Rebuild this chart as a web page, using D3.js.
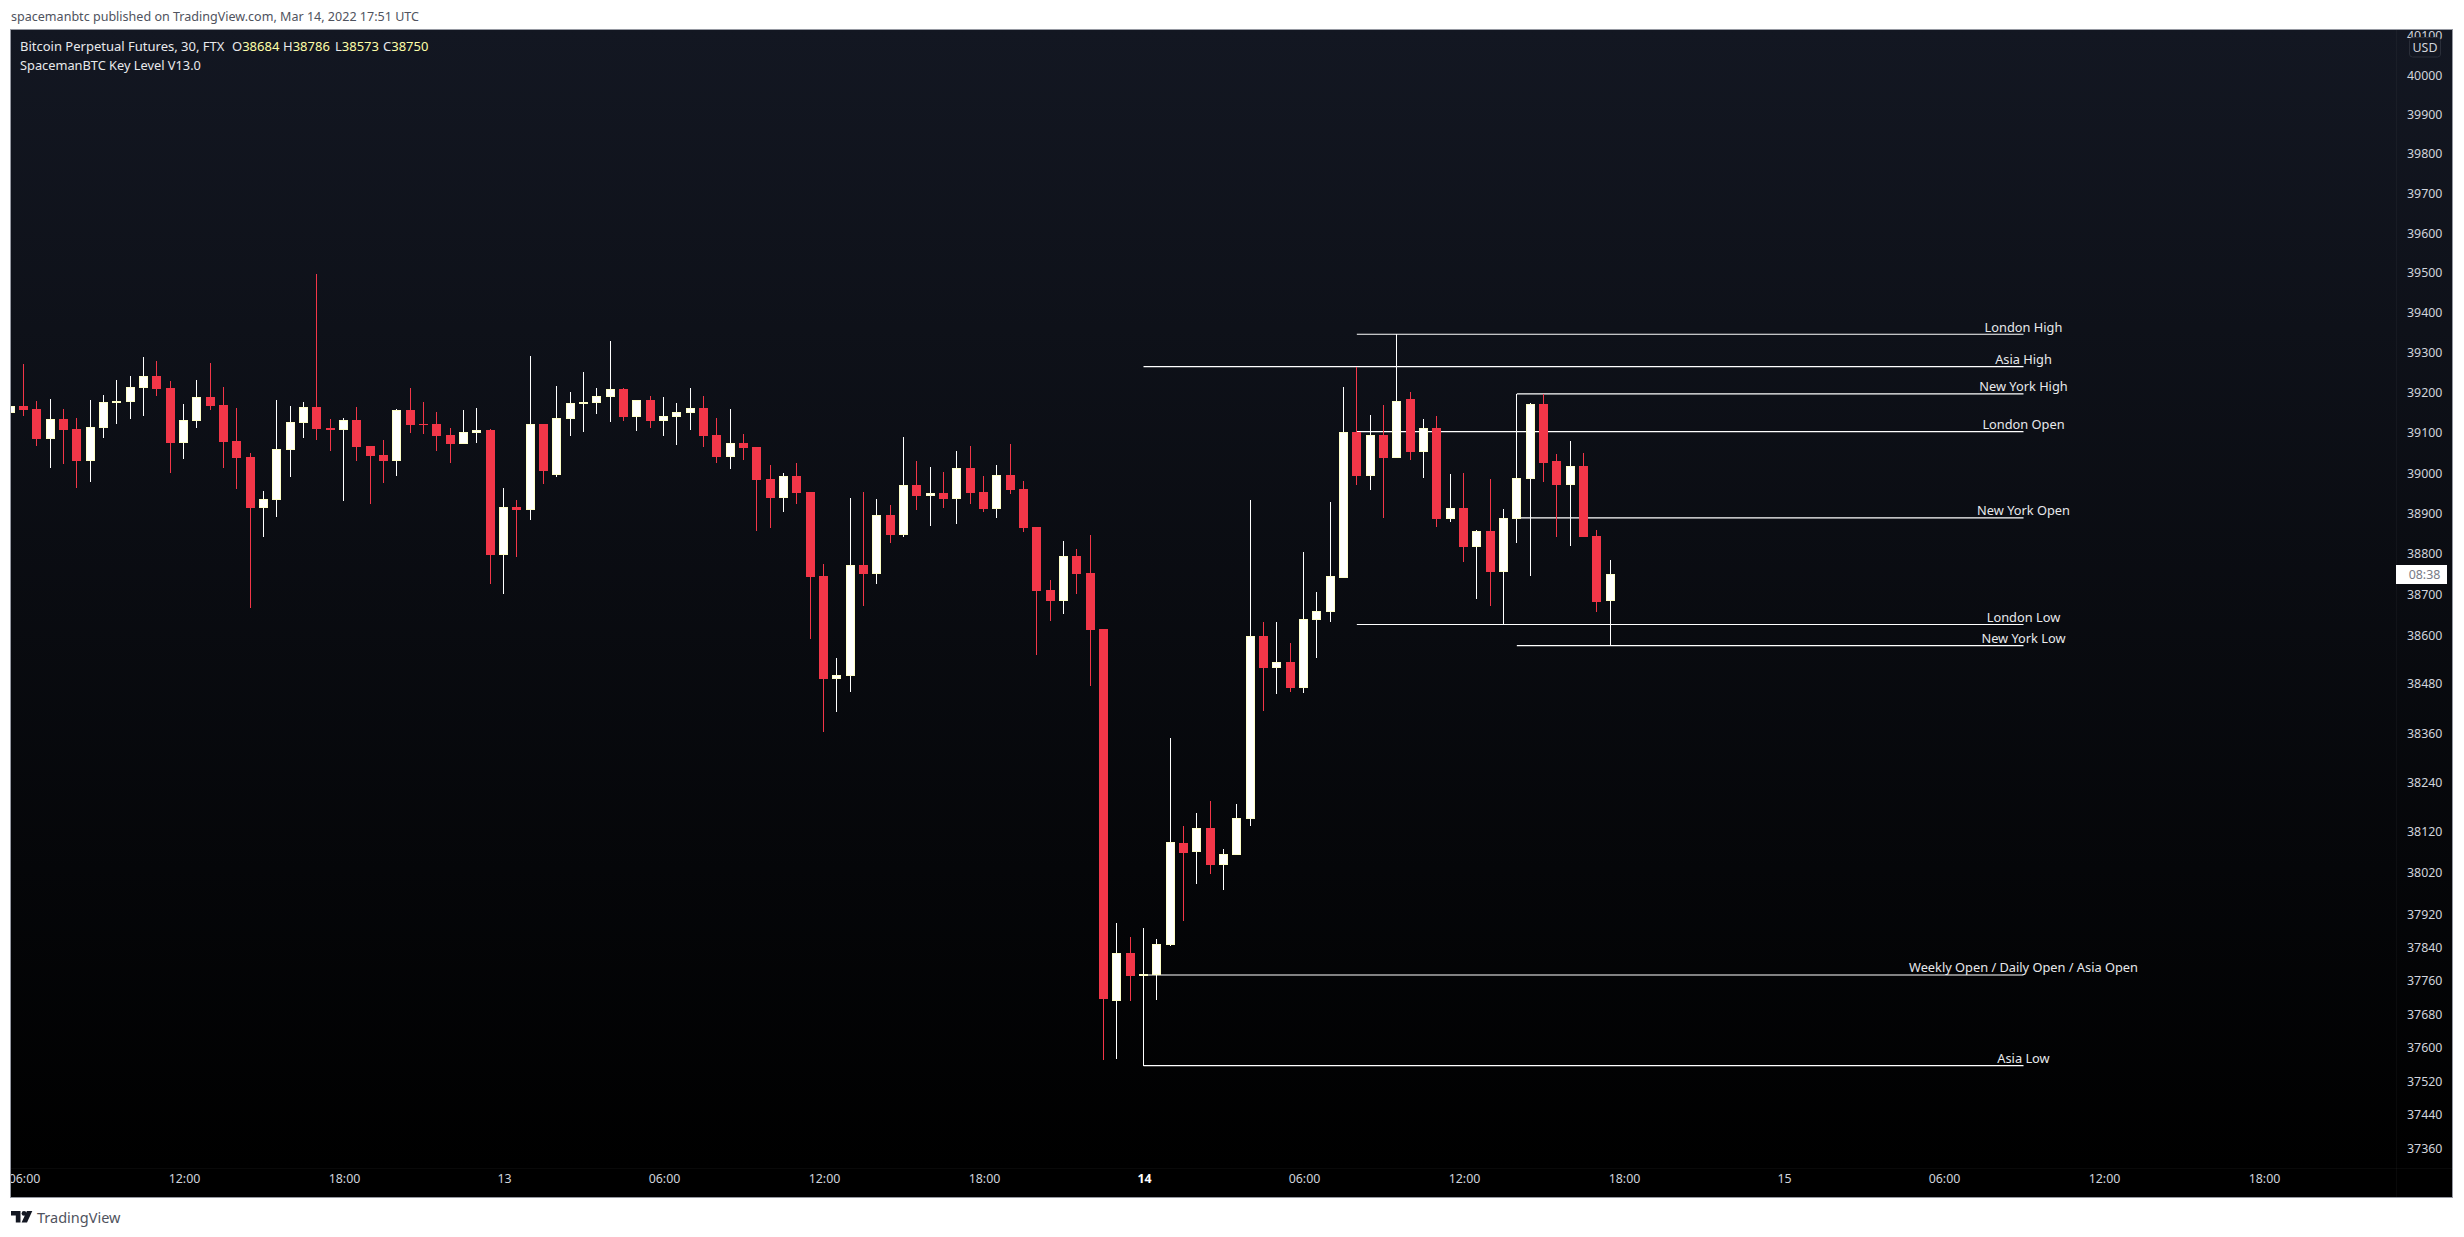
<!DOCTYPE html>
<html>
<head>
<meta charset="utf-8">
<title>Bitcoin Perpetual Futures, 30, FTX</title>
<script src="https://cdn.jsdelivr.net/npm/d3@7"></script>
<style>
	html, body { margin: 0; padding: 0; background: #fff; overflow: hidden; }
	svg { display: block; }
	text { font-family: "Noto Sans", sans-serif; }
</style>
</head>
<body>
<div id="chart"></div>
<script>
// 30 minute candles, index 0 = 12 Mar 2022 05:30 UTC
const opens = [39149,39167,39159,39085,39134,39110,39030,39112,39174,39177,39211,39241,39211,39075,39129,39189,39169,39080,39040,38913,38933,39057,39124,39164,39112,39107,39132,39067,39045,39030,39157,39122,39122,39095,39072,39100,39107,38797,38916,38909,39122,38995,39135,39172,39174,39189,39209,39140,39182,39130,39140,39150,39162,39095,39040,39075,39065,38986,38939,38993,38954,38745,38492,38500,38772,38750,38896,38847,38971,38944,38951,38936,39013,38954,38911,38996,38961,38867,38710,38683,38795,38752,38615,37712,37827,37772,37774,37847,38093,38071,38129,38040,38064,38151,38598,38519,38534,38470,38637,38656,38741,39102,38993,39095,39037,39184,39052,39112,38886,38913,38817,38856,38755,38886,38985,39172,39030,38970,39018,38844,38684];
const highs = [39167,39272,39179,39184,39159,39137,39182,39194,39231,39241,39289,39279,39229,39172,39231,39274,39214,39162,39050,38956,39182,39167,39177,39496,39134,39137,39164,39067,39082,39159,39211,39177,39152,39112,39157,39162,39110,38963,38933,39291,39122,39216,39202,39251,39212,39328,39212,39182,39192,39189,39174,39212,39192,39137,39159,39097,39065,39020,39001,39025,38954,38775,38544,38939,38954,38936,38921,39090,39030,39016,39003,39055,39068,38993,39020,39073,38981,38867,38735,38832,38812,38847,38615,37899,37866,37887,37861,38348,38134,38165,38195,38079,38188,38933,38632,38632,38580,38805,38706,38928,39214,39264,39144,39169,39346,39202,39134,39142,38998,39000,38859,38985,38911,39197,39174,39196,39047,39080,39050,38859,38786];
const lows = [39149,39142,39067,39013,39023,38963,38978,39087,39122,39134,39142,39191,39000,39035,39112,39157,39013,38961,38667,38842,38891,38990,39087,39082,39055,38931,39030,38923,38976,38993,39100,39097,39055,39025,39072,39075,38725,38701,38792,38884,38973,38990,39092,39102,39147,39127,39130,39105,39112,39092,39070,39107,39065,39025,39011,39033,38857,38864,38904,38924,38591,38363,38412,38461,38671,38725,38827,38842,38909,38869,38914,38874,38924,38904,38889,38949,38854,38551,38634,38651,38700,38475,37571,37573,37712,37557,37714,37844,37904,37994,38018,37979,38064,38134,38414,38456,38461,38458,38544,38632,38741,38970,38958,38889,39037,39033,38988,38866,38879,38780,38689,38671,38626,38827,38745,38978,38842,38819,38842,38656,38573];
const closes = [39167,39157,39085,39134,39107,39030,39115,39177,39179,39214,39241,39209,39075,39132,39189,39167,39077,39038,38913,38936,39060,39127,39164,39110,39107,39132,39065,39043,39030,39157,39120,39120,39092,39072,39102,39107,38797,38916,38909,39122,39005,39137,39174,39177,39192,39209,39140,39182,39130,39142,39152,39162,39092,39040,39075,39063,38983,38939,38993,38951,38743,38492,38502,38772,38750,38896,38847,38971,38944,38951,38936,39013,38951,38911,38996,38958,38864,38709,38683,38795,38750,38613,37717,37827,37772,37777,37849,38095,38069,38129,38040,38067,38154,38598,38519,38534,38470,38639,38659,38745,39102,38993,39095,39037,39179,39052,39112,38886,38913,38817,38856,38755,38889,38988,39172,39025,38970,39018,38842,38681,38750];

const levelNames = ["London High", "Asia High", "New York High", "London Open", "New York Open", "London Low", "New York Low", "Weekly Open / Daily Open / Asia Open", "Asia Low"];
const levelPrices = [39346, 39265, 39197, 39103, 38889, 38626, 38574, 37774, 37557];
const levelStarts = ["2022-03-14T08:00Z", "2022-03-14T00:00Z", "2022-03-14T14:00Z", "2022-03-14T08:00Z", "2022-03-14T14:00Z", "2022-03-14T08:00Z", "2022-03-14T14:00Z", "2022-03-14T00:00Z", "2022-03-14T00:00Z"];
const levelEnd = "2022-03-15T09:00Z";

const priceTicks = [40100,40000,39900,39800,39700,39600,39500,39400,39300,39200,39100,39000,38900,38800,38700,38600,38480,38360,38240,38120,38020,37920,37840,37760,37680,37600,37520,37440,37360];
const timeTicks = ["2022-03-12T06:00Z","2022-03-12T12:00Z","2022-03-12T18:00Z","2022-03-13T00:00Z","2022-03-13T06:00Z","2022-03-13T12:00Z","2022-03-13T18:00Z","2022-03-14T00:00Z","2022-03-14T06:00Z","2022-03-14T12:00Z","2022-03-14T18:00Z","2022-03-15T00:00Z","2022-03-15T06:00Z","2022-03-15T12:00Z","2022-03-15T18:00Z"];
const timeLabels = ["06:00","12:00","18:00","13","06:00","12:00","18:00","14","06:00","12:00","18:00","15","06:00","12:00","18:00"];

const legendParts = [["O", "38684"], ["H", "38786"], ["L", "38573"], ["C", "38750"]];
const legendX = [232, 283, 335, 383];

const width = 2464, height = 1237;
const frame = { left: 11, top: 30, right: 2452, bottom: 1197 };
const axisX = 2396, axisY = 1168;
const bullColor = "#ffffff", bullEdge = "#ffffc8", bearColor = "#f23648";
const barWidth = 9;

const svg = d3.select("#chart").append("svg")
	.attr("width", width)
	.attr("height", height);

const defs = svg.append("defs");

let gradient = defs.append("linearGradient")
	.attr("id", "paneBg")
	.attr("gradientUnits", "userSpaceOnUse")
	.attr("x1", 0).attr("x2", 0)
	.attr("y1", frame.top).attr("y2", axisY);
gradient.append("stop").attr("offset", 0).attr("stop-color", "#131722");
gradient.append("stop").attr("offset", 1).attr("stop-color", "#000000");

defs.append("clipPath").attr("id", "frameClip").append("rect")
	.attr("x", frame.left).attr("y", frame.top)
	.attr("width", frame.right - frame.left).attr("height", frame.bottom - frame.top);
defs.append("clipPath").attr("id", "paneClip").append("rect")
	.attr("x", frame.left).attr("y", frame.top)
	.attr("width", axisX - frame.left).attr("height", axisY - frame.top);

// publish line
svg.append("text")
	.attr("x", 11).attr("y", 21)
	.attr("font-size", 12.55)
	.attr("fill", "#50535e")
	.text("spacemanbtc published on TradingView.com, Mar 14, 2022 17:51 UTC");

// chart background
svg.append("rect")
	.attr("x", frame.left).attr("y", frame.top)
	.attr("width", frame.right - frame.left).attr("height", axisY - frame.top)
	.attr("fill", "url(#paneBg)");
svg.append("rect")
	.attr("x", frame.left).attr("y", axisY)
	.attr("width", frame.right - frame.left).attr("height", frame.bottom - axisY)
	.attr("fill", "#000");

const x = d3.scaleUtc()
	.domain([new Date("2022-03-12T05:30Z"), new Date("2022-03-15T05:00Z")])
	.range([10.17, 10.17 + 13.3333 * 143]);

const y = d3.scaleLog()
	.domain([37360, 40000])
	.range([1148.2, 75.2]);

const candleTime = i => new Date(Date.UTC(2022, 2, 12, 5, 30 + 30 * i));
// TradingView snaps bars to whole pixels
const snapX = t => Math.floor(x(t)) + 0.5;

const candles = opens.map((open, i) => ({
	time: candleTime(i),
	open: open,
	high: highs[i],
	low: lows[i],
	close: closes[i]
}));

const pane = svg.append("g").attr("clip-path", "url(#paneClip)");

// key level lines sit under the candles
const levels = levelNames.map((name, i) => ({ name: name, price: levelPrices[i], start: new Date(levelStarts[i]) }));

pane.selectAll("line.level")
	.data(levels)
	.join("line")
	.attr("class", "level")
	.attr("x1", d => x(d.start))
	.attr("x2", x(new Date(levelEnd)))
	.attr("y1", d => y(d.price))
	.attr("y2", d => y(d.price))
	.attr("stroke", "#ffffff")
	.attr("stroke-width", 1.2);

const candleG = pane.selectAll("g.candle")
	.data(candles)
	.join("g")
	.attr("class", "candle");

candleG.append("line")
	.attr("x1", d => snapX(d.time))
	.attr("x2", d => snapX(d.time))
	.attr("y1", d => Math.round(y(d.high)))
	.attr("y2", d => Math.round(y(d.low)))
	.attr("stroke", d => d.close >= d.open ? bullColor : bearColor)
	.attr("stroke-width", 1);

candleG.append("rect")
	.attr("x", d => snapX(d.time) - barWidth / 2 + (d.close >= d.open ? 0.5 : 0))
	.attr("y", d => Math.round(y(Math.max(d.open, d.close))) + (d.close >= d.open ? 0.5 : 0))
	.attr("width", d => d.close >= d.open ? barWidth - 1 : barWidth)
	.attr("height", d => Math.max(Math.round(y(Math.min(d.open, d.close))) - Math.round(y(Math.max(d.open, d.close))) - (d.close >= d.open ? 1 : 0), 1))
	.attr("fill", d => d.close >= d.open ? bullColor : bearColor)
	.attr("stroke", d => d.close >= d.open ? bullEdge : "none")
	.attr("stroke-width", 1);

// level labels, centred on the line end
svg.selectAll("text.levelLabel")
	.data(levels)
	.join("text")
	.attr("class", "levelLabel")
	.attr("x", x(new Date(levelEnd)))
	.attr("y", d => y(d.price) - 2.6)
	.attr("text-anchor", "middle")
	.attr("font-size", 12.8)
	.attr("fill", "#e8e9ec")
	.text(d => d.name);

// price axis
const axisG = svg.append("g").attr("clip-path", "url(#frameClip)");

const priceAxis = d3.axisRight(y)
	.tickValues(priceTicks)
	.tickFormat(d3.format("d"))
	.tickSize(0)
	.tickPadding(0);

axisG.append("g")
	.attr("transform", "translate(2407,0)")
	.call(priceAxis)
	.call(g => g.select(".domain").remove())
	.call(g => g.selectAll("text")
		.attr("font-size", 12.4)
		.attr("font-family", "\"Noto Sans\", sans-serif")
		.attr("fill", "#d1d4dc"));

// time axis
const timeAxis = d3.axisBottom(x)
	.tickValues(timeTicks.map(t => new Date(t)))
	.tickFormat((d, i) => timeLabels[i])
	.tickSize(0)
	.tickPadding(0);

axisG.append("g")
	.attr("transform", "translate(0.5,1174)")
	.call(timeAxis)
	.call(g => g.select(".domain").remove())
	.call(g => g.selectAll("text")
		.attr("font-size", 12.4)
		.attr("font-family", "\"Noto Sans\", sans-serif")
		.attr("fill", "#d1d4dc"))
	.call(g => g.selectAll(".tick").filter((d, i) => timeLabels[i] == "14").selectAll("text")
		.attr("font-weight", "bold")
		.attr("fill", "#ffffff"));

// faint separators between pane and axes
svg.append("line")
	.attr("x1", axisX + 0.5).attr("x2", axisX + 0.5)
	.attr("y1", frame.top).attr("y2", frame.bottom)
	.attr("stroke", "#ffffff").attr("stroke-opacity", 0.035);
svg.append("line")
	.attr("x1", frame.left).attr("x2", frame.right)
	.attr("y1", axisY + 0.5).attr("y2", axisY + 0.5)
	.attr("stroke", "#ffffff").attr("stroke-opacity", 0.035);

// USD badge on top of the first clipped tick
svg.append("rect")
	.attr("x", 2409.5).attr("y", 37.5)
	.attr("width", 31).attr("height", 19.5)
	.attr("rx", 3)
	.attr("fill", "#131722")
	.attr("stroke", "#2a2e39");
svg.append("text")
	.attr("x", 2425).attr("y", 52)
	.attr("text-anchor", "middle")
	.attr("font-size", 12.4)
	.attr("fill", "#d1d4dc")
	.text("USD");

// countdown label
svg.append("rect")
	.attr("x", 2396).attr("y", 565)
	.attr("width", 51).attr("height", 19)
	.attr("fill", "#ffffff");
svg.append("text")
	.attr("x", 2424.5).attr("y", 579.3)
	.attr("text-anchor", "middle")
	.attr("font-size", 12.4)
	.attr("fill", "#787b86")
	.text("08:38");

// legend
svg.append("text")
	.attr("x", 20).attr("y", 51)
	.attr("font-size", 13)
	.attr("fill", "#e8e9ec")
	.text("Bitcoin Perpetual Futures, 30, FTX");
svg.append("text")
	.attr("x", 20).attr("y", 70)
	.attr("font-size", 12.8)
	.attr("fill", "#e8e9ec")
	.text("SpacemanBTC Key Level V13.0");

let legendText = svg.selectAll("text.ohlc")
	.data(legendParts)
	.join("text")
	.attr("class", "ohlc")
	.attr("x", (d, i) => legendX[i])
	.attr("y", 51)
	.attr("font-size", 13);
legendText.append("tspan").attr("fill", "#e8e9ec").text(d => d[0]);
legendText.append("tspan").attr("fill", "#ffffa8").text(d => d[1]);

// frame
svg.append("rect")
	.attr("x", frame.left - 0.5).attr("y", frame.top - 0.5)
	.attr("width", frame.right - frame.left + 1).attr("height", frame.bottom - frame.top + 1)
	.attr("fill", "none")
	.attr("stroke", "#9598a1");

// footer logo
const logo = svg.append("g").attr("transform", "translate(11,1211)").attr("fill", "#131722");
logo.append("path").attr("d", "M0 0H9.5V11.5H4.8V4.6H0Z");
logo.append("circle").attr("cx", 13).attr("cy", 2.4).attr("r", 2.4);
logo.append("path").attr("d", "M21.3 0L16 11.5H10.6L15.9 0Z");

svg.append("text")
	.attr("x", 37).attr("y", 1223)
	.attr("font-size", 14.5)
	.attr("fill", "#50535e")
	.text("TradingView");
</script>
</body>
</html>
